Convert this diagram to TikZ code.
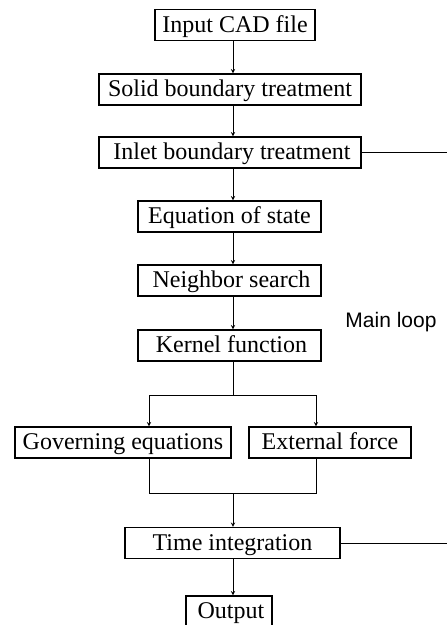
\documentclass[tikz,border=0pt]{standalone}
\usepackage{fontspec}
\setmainfont{Liberation Serif}
\newfontfamily\loopfont{Liberation Sans}
\usetikzlibrary{shapes.geometric, arrows}
\usetikzlibrary{calc}
\usetikzlibrary{positioning}

\begin{document}
\begin{tikzpicture}[x=1pt,y=1pt,yscale=-1,xscale=1]
  \useasboundingbox (0,0) rectangle (447,625);
  \tikzstyle{arrow} = [line width=0.9pt,->,>=stealth]
  \tikzstyle{line} = [line width=0.9pt]
  \tikzstyle{stepbox} = [draw,line width=1.4pt,minimum height=31pt,inner sep=0pt,text height=17pt,text depth=3pt,font=\fontsize{24}{28}\selectfont]
  %the spine on which the arrows run
  \coordinate (spine) at (233,0);
  %Draw the boxes
  \node[stepbox,minimum width=160pt] (input) at (235,25) {Input CAD file};
  \node[stepbox,minimum width=262pt] (solid) at (230,89.5) {Solid boundary treatment};
  \node[stepbox,minimum width=262pt] (inlet) at (230,152.5) {\,Inlet boundary treatment};
  \node[stepbox,minimum width=183pt] (eos) at (229.5,216.5) {Equation of state};
  \node[stepbox,minimum width=183pt] (nbr) at (229.5,280.5) {\,Neighbor search};
  \node[stepbox,minimum width=183pt] (kernel) at (229.5,345.5) {\,Kernel function};
  \node[stepbox,minimum width=216pt] (gov) at (123,442.5) {Governing equations};
  \node[stepbox,minimum width=162pt] (ext) at (330,442.5) {External force};
  \node[stepbox,minimum width=215pt] (time) at (232.5,543) {Time integration};
  \node[stepbox,minimum width=86pt] (output) at (229,611.5) {\,Output};
  %Label the loop
  \node[font=\loopfont\fontsize{21}{25}\selectfont,inner sep=0pt] (looplabel) at (391,322) {Main loop};
  %Draw the arrows down the spine
  \draw [arrow] (input.south -| spine) -- (solid.north -| spine);
  \draw [arrow] (solid.south -| spine) -- (inlet.north -| spine);
  \draw [arrow] (inlet.south -| spine) -- (eos.north -| spine);
  \draw [arrow] (eos.south -| spine) -- (nbr.north -| spine);
  \draw [arrow] (nbr.south -| spine) -- (kernel.north -| spine);
  %Split into the two branches
  \coordinate (split) at (233,395);
  \draw [line] (kernel.south -| spine) -- (split);
  \draw [arrow] (split) -| (gov.north -| 149,0);
  \draw [arrow] (split) -| (ext.north -| 316,0);
  %Merge the branches
  \coordinate (merge) at (233,493);
  \draw [line] (gov.south -| 149,0) |- (merge);
  \draw [line] (ext.south -| 316,0) |- (merge);
  \draw [arrow] (merge) -- (time.north -| spine);
  \draw [arrow] (time.south -| spine) -- (output.north -| spine);
  %Lines of the main loop
  \coordinate (inletend) at (447,152.5);
  \coordinate (timeend) at (447,543);
  \draw [line] (inlet.east) -- (inletend);
  \draw [line] (time.east) -- (timeend);
\end{tikzpicture}
\end{document}
